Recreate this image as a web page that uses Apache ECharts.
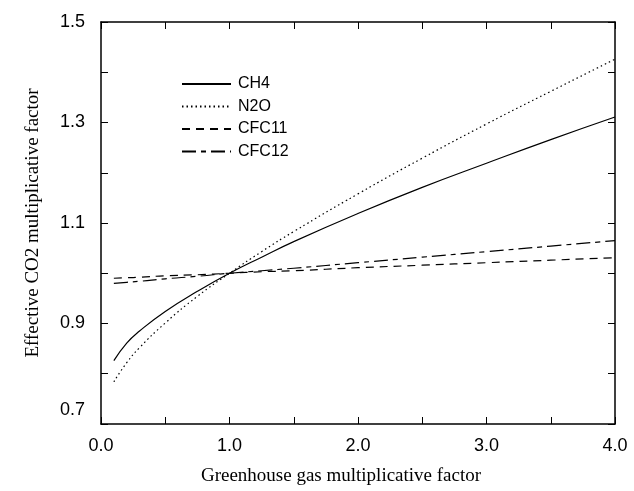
<!DOCTYPE html>
<html>
<head>
<meta charset="utf-8">
<script src="https://cdn.jsdelivr.net/npm/echarts@6/dist/echarts.min.js"></script>
<style>html,body{margin:0;padding:0;background:#fff}#c{width:634px;height:491px}</style>
</head>
<body>
<div id="c"></div>
<script>
var xValues = [0.1, 0.2, 0.3, 0.5, 0.75, 1.0, 1.25, 1.5, 2.0, 2.5, 3.0, 3.5, 4.0];
var ch4   = [0.826, 0.861, 0.885, 0.924, 0.964, 1.000, 1.032, 1.063, 1.119, 1.171, 1.219, 1.266, 1.311];
var n2o   = [0.784, 0.822, 0.852, 0.901, 0.954, 1.000, 1.043, 1.083, 1.158, 1.229, 1.297, 1.362, 1.426];
var cfc11 = [0.990, 0.991, 0.992, 0.995, 0.997, 1.000, 1.003, 1.005, 1.011, 1.016, 1.021, 1.026, 1.031];
var cfc12 = [0.980, 0.982, 0.984, 0.989, 0.994, 1.000, 1.005, 1.010, 1.021, 1.032, 1.043, 1.054, 1.065];
var seriesNames = ['CH4', 'N2O', 'CFC11', 'CFC12'];
var xTitle = 'Greenhouse gas multiplicative factor';
var yTitle = 'Effective CO2 multiplicative factor';

function pairs(ys){ return xValues.map(function(x,i){ return [x, ys[i]]; }); }

var chart = echarts.init(document.getElementById('c'), null, {renderer:'canvas'});
var sans = 'Liberation Sans';
var serif = 'Liberation Serif';
function lineSeries(name, data, type){
  return {
    name: name, type: 'line', data: pairs(data), symbol: 'none', smooth: true,
    xAxisIndex: 0, yAxisIndex: 0,
    lineStyle: {color:'#000', width: 1.2, type: type},
    itemStyle: {color:'#000'}
  };
}
function tick(){ return {show: true, inside: true, length: 7, lineStyle: {color: '#000', width: 1}}; }
chart.setOption({
  animation: false,
  backgroundColor: '#fff',
  grid: {left: 101, right: 19, top: 22, bottom: 67},
  legend: {
    show: true,
    orient: 'vertical', left: 176, top: 71,
    itemWidth: 49, itemHeight: 14, itemGap: 6.5,
    itemStyle: {opacity: 0},
    textStyle: {fontFamily: sans, fontSize: 16, color: '#000', padding: [0, 0, 0, 2]},
    data: seriesNames
  },
  xAxis: [{
    type: 'value', min: 0, max: 4, interval: 0.5, position: 'bottom',
    name: xTitle, nameLocation: 'middle', nameGap: 43,
    nameTextStyle: {fontFamily: serif, fontSize: 19, color: '#000', padding: [0, 34, 0, 0]},
    axisLine: {show: true, onZero: false, lineStyle: {color: '#000', width: 1.5}},
    axisTick: tick(),
    axisLabel: {fontFamily: sans, fontSize: 18, color: '#000', margin: 13,
      formatter: function(v){ return (Math.abs(v - Math.round(v)) < 1e-6) ? v.toFixed(1) : ''; }},
    splitLine: {show: false}
  },{
    type: 'value', min: 0, max: 4, interval: 0.5, position: 'top',
    axisLine: {show: true, onZero: false, lineStyle: {color: '#000', width: 1.5}},
    axisTick: tick(),
    axisLabel: {show: false}, splitLine: {show: false}
  }],
  yAxis: [{
    type: 'value', min: 0.7, max: 1.5, interval: 0.1, position: 'left',
    name: yTitle, nameLocation: 'middle', nameGap: 58, nameRotate: 90,
    nameTextStyle: {fontFamily: serif, fontSize: 19, color: '#000'},
    axisLine: {show: true, onZero: false, lineStyle: {color: '#000', width: 1.5}},
    axisTick: tick(),
    axisLabel: {fontFamily: sans, fontSize: 18, color: '#000', margin: 16,
      formatter: function(v){
        var k = Math.round(v * 10);
        if (k % 2 === 0) return '';
        if (k === 7) return '{lo|' + v.toFixed(1) + '}';
        return v.toFixed(1);
      },
      rich: {lo: {fontFamily: sans, fontSize: 18, color: '#000', padding: [0, 0, 28, 0]}}
    },
    splitLine: {show: false}
  },{
    type: 'value', min: 0.7, max: 1.5, interval: 0.1, position: 'right',
    axisLine: {show: true, onZero: false, lineStyle: {color: '#000', width: 1.5}},
    axisTick: tick(),
    axisLabel: {show: false}, splitLine: {show: false}
  }],
  series: [
    lineSeries('CH4', ch4, 'solid'),
    lineSeries('N2O', n2o, [1.5, 3]),
    lineSeries('CFC11', cfc11, [8, 6]),
    lineSeries('CFC12', cfc12, [14, 5, 5, 5])
  ]
});
</script>
</body>
</html>
